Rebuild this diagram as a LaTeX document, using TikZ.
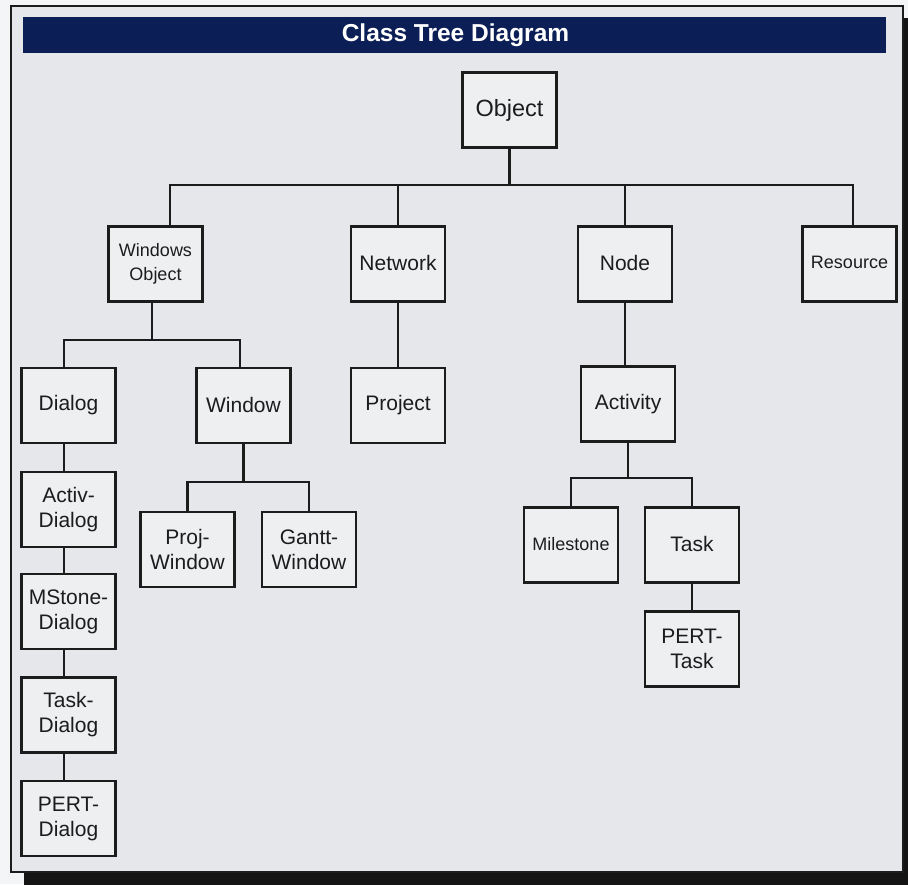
\documentclass[tikz,border=0pt]{standalone}
\usepackage{fontspec}
\setmainfont{Liberation Sans}
\definecolor{pagebg}{HTML}{F4F5F6}
\definecolor{panelbg}{HTML}{E5E7EA}
\definecolor{boxfill}{HTML}{EDEFF1}
\definecolor{navy}{HTML}{0B1E56}
\definecolor{ink}{HTML}{1C1C1C}
\tikzset{
  cls/.style={draw=ink, line width=2.2pt, fill=boxfill, minimum width=94pt,
    minimum height=75pt, inner sep=0pt, align=center, text=ink,
    font=\fontsize{21}{25}\selectfont},
  clssmall/.style={cls, font=\fontsize{18}{24}\selectfont},
  clsbig/.style={cls, font=\fontsize{23.5}{27}\selectfont},
  conn/.style={draw=ink, line width=2.3pt},
}
\begin{document}
\begin{tikzpicture}[x=1pt,y=-1pt]
\useasboundingbox (0,0) rectangle (908,884);
% page and frame
\fill[pagebg] (0,0) rectangle (908,884);
\fill[black!92] (24,18) rectangle (916,890);
\draw[ink, line width=1.8pt, fill=panelbg] (11,6) rectangle (903,872);
% header
\fill[navy] (23,17) rectangle (886,53);
\node[text=white, font=\bfseries\fontsize{24.5}{27}\selectfont] (title) at (455.5,35.5) {Class Tree Diagram};
% nodes
\node[clsbig] (obj) at (509.5,110) {Object};
\node[clssmall] (wo) at (155.5,264) {Windows\\Object};
\node[cls] (net) at (398,264) {\raisebox{3pt}{Network}};
\node[cls] (nod) at (625,264) {\raisebox{3pt}{Node}};
\node[clssmall] (res) at (849.5,264) {\raisebox{3pt}{Resource}};
\node[cls] (dlg) at (68.5,405.5) {Dialog};
\node[cls] (win) at (243.5,405.5) {\raisebox{2pt}{Window}};
\node[cls] (prj) at (398,405.5) {Project};
\node[cls] (act) at (628,404) {Activity};
\node[cls] (pwin) at (187.5,549.5) {Proj-\\Window};
\node[cls] (gwin) at (309,549.5) {Gantt-\\Window};
\node[clssmall] (mil) at (571,545) {\raisebox{2pt}{Milestone}};
\node[cls] (task) at (692,545) {\raisebox{2pt}{Task}};
\node[cls] (ptask) at (692,649) {PERT-\\Task};
\node[cls] (adlg) at (68.5,509.5) {Activ-\\Dialog};
\node[cls] (mdlg) at (68.5,611.5) {MStone-\\Dialog};
\node[cls] (tdlg) at (68.5,715) {Task-\\Dialog};
\node[cls] (pdlg) at (68.5,818.5) {PERT-\\Dialog};
% helper coordinates
\coordinate (busA) at (0,185);
\coordinate (woX) at (170,0);
\coordinate (resX) at (853,0);
\coordinate (busB) at (0,340);
\coordinate (woB) at (152,0);
\coordinate (dlgX) at (64,0);
\coordinate (winX) at (240,0);
\coordinate (busC) at (0,482);
\coordinate (busD) at (0,478);
% connectors
\draw[conn] (obj.south) -- (obj.south |- busA);
\draw[conn] (wo.north -| woX) |- (busA -| resX) -- (res.north -| resX);
\draw[conn] (net.north) -- (net.north |- busA);
\draw[conn] (nod.north) -- (nod.north |- busA);
\draw[conn] (wo.south -| woB) -- (busB -| woB);
\draw[conn] (dlg.north -| dlgX) |- (busB -| winX) -- (win.north -| winX);
\draw[conn] (net.south) -- (prj.north);
\draw[conn] (nod.south) -- (nod.south |- act.north);
\draw[conn] (win.south) -- (win.south |- busC);
\draw[conn] (pwin.north) |- (busC -| gwin) -- (gwin.north);
\draw[conn] (act.south) -- (act.south |- busD);
\draw[conn] (mil.north) |- (busD -| task) -- (task.north);
\draw[conn] (task.south) -- (ptask.north);
\draw[conn] (dlg.south -| dlgX) -- (adlg.north -| dlgX);
\draw[conn] (adlg.south -| dlgX) -- (mdlg.north -| dlgX);
\draw[conn] (mdlg.south -| dlgX) -- (tdlg.north -| dlgX);
\draw[conn] (tdlg.south -| dlgX) -- (pdlg.north -| dlgX);
\end{tikzpicture}
\end{document}
